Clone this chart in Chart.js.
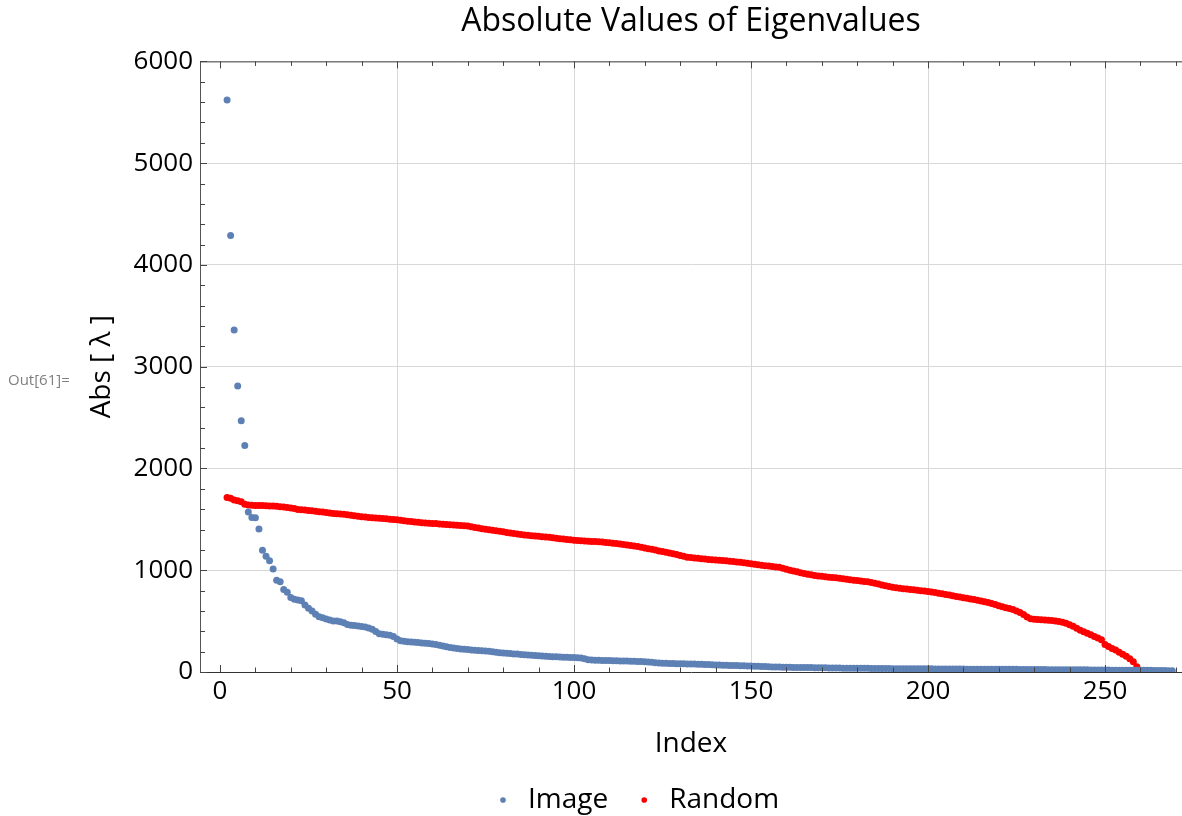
<!DOCTYPE html>
<html>
<head>
<meta charset="utf-8">
<title>Absolute Values of Eigenvalues</title>
<script src="https://cdn.jsdelivr.net/npm/chart.js@4.4.1/dist/chart.umd.min.js"></script>
<style>
  html, body { margin: 0; padding: 0; background: #fff; }
  canvas { display: block; }
</style>
</head>
<body>
<canvas id="eigenChart" width="1182" height="816"></canvas>
<script>
// Eigenvalue magnitudes, index starts at 2
const firstIndex = 2;

const imageValues = [
  5620, 4288, 3361, 2810, 2469, 2226, 1571, 1518, 1515, 1406,
  1197, 1138, 1092, 1013, 902, 888, 810, 784, 731, 715,
  708, 701, 659, 626, 600, 567, 544, 534, 521, 511,
  502, 500, 495, 485, 466, 459, 456, 453, 446, 443,
  433, 420, 397, 377, 370, 366, 362, 350, 325, 308,
  302, 298, 295, 292, 289, 286, 283, 280, 276, 270,
  264, 256, 248, 240, 236, 232, 227, 223, 220, 217,
  214, 211, 209, 207, 203, 198, 194, 190, 187, 184,
  181, 178, 176, 173, 170, 167, 164, 161, 159, 157,
  155, 153, 151, 149, 148, 146, 145, 143, 142, 141,
  138, 130, 121, 118, 116, 115, 114, 113, 112, 111,
  110, 109, 108, 107, 106, 105, 104, 102, 101, 99,
  96, 92, 89, 86, 85, 84, 83, 82, 81, 80,
  79, 79, 78, 77, 75, 74, 73, 72, 70, 69,
  67, 66, 65, 64, 63, 62, 61, 60, 59, 57,
  56, 55, 53, 52, 50, 49, 48, 47, 47, 46,
  45, 45, 44, 44, 43, 43, 42, 42, 41, 41,
  40, 40, 39, 39, 38, 38, 38, 37, 37, 36,
  36, 36, 35, 35, 35, 34, 34, 34, 33, 33,
  33, 33, 32, 32, 32, 32, 31, 31, 31, 31,
  30, 30, 30, 30, 29, 29, 29, 29, 29, 28,
  28, 28, 28, 28, 27, 27, 27, 27, 27, 26,
  26, 26, 26, 26, 25, 25, 25, 25, 24, 24,
  24, 24, 23, 23, 23, 23, 22, 22, 22, 22,
  21, 21, 21, 21, 20, 20, 20, 19, 19, 19,
  18, 18, 18, 17, 17, 17, 17, 16, 16, 16,
  16, 16, 15, 15, 14, 14, 13, 12
];

const randomValues = [
  1715, 1708, 1690, 1682, 1672, 1648, 1642, 1639, 1637, 1636,
  1635, 1634, 1632, 1630, 1628, 1625, 1622, 1617, 1612, 1607,
  1598, 1594, 1591, 1588, 1584, 1579, 1575, 1571, 1567, 1562,
  1558, 1555, 1552, 1549, 1545, 1541, 1535, 1530, 1526, 1522,
  1519, 1516, 1513, 1510, 1508, 1505, 1502, 1499, 1495, 1491,
  1486, 1482, 1478, 1474, 1471, 1467, 1464, 1462, 1460, 1458,
  1454, 1451, 1449, 1447, 1445, 1442, 1440, 1437, 1434, 1428,
  1420, 1414, 1408, 1402, 1397, 1392, 1387, 1382, 1377, 1371,
  1366, 1361, 1357, 1352, 1347, 1343, 1339, 1336, 1333, 1330,
  1326, 1323, 1319, 1314, 1310, 1306, 1303, 1299, 1295, 1291,
  1289, 1287, 1285, 1283, 1282, 1280, 1277, 1273, 1269, 1266,
  1263, 1259, 1254, 1249, 1244, 1238, 1232, 1226, 1219, 1212,
  1205, 1198, 1190, 1183, 1176, 1169, 1162, 1155, 1146, 1137,
  1128, 1124, 1121, 1118, 1114, 1110, 1106, 1103, 1101, 1098,
  1095, 1092, 1089, 1086, 1082, 1078, 1074, 1069, 1064, 1059,
  1054, 1049, 1045, 1041, 1037, 1033, 1029, 1020, 1010, 1000,
  992, 984, 976, 968, 961, 955, 949, 944, 940, 936,
  932, 929, 926, 921, 916, 911, 906, 902, 898, 894,
  890, 886, 880, 872, 864, 856, 848, 840, 834, 828,
  823, 819, 815, 811, 807, 803, 799, 795, 790, 785,
  780, 774, 768, 762, 756, 749, 742, 736, 730, 724,
  718, 712, 706, 698, 690, 682, 674, 664, 652, 640,
  632, 624, 614, 600, 585, 565, 540, 524, 518, 515,
  513, 511, 509, 506, 502, 497, 490, 478, 465, 450,
  430, 410, 395, 380, 365, 350, 335, 318, 270, 250,
  232, 215, 195, 175, 155, 130, 100, 52
];

const seriesNames = ["Image", "Random"];
const seriesColors = ["#5e81b5", "#ff0000"];

const xTickValues = [0, 50, 100, 150, 200, 250];
const yTickValues = [0, 1000, 2000, 3000, 4000, 5000, 6000];

const toPoints = values => values.map((v, k) => ({ x: firstIndex + k, y: v }));

Chart.defaults.font.family = "'Open Sans', sans-serif";
Chart.defaults.color = "#000";

// Mathematica style frame: top edge, inward ticks, "Out" label
const frameTicks = {
  id: "frameTicks",
  afterLayout(chart) {
    // legend sits a bit left of the plot centre in the original
    chart.legend.left = 467;
  },
  afterDatasetsDraw(chart) {
    const { ctx, chartArea: area, scales: { x, y } } = chart;
    ctx.save();
    ctx.strokeStyle = "#444";
    ctx.lineWidth = 1;
    ctx.beginPath();
    ctx.moveTo(area.left, area.top + 0.5);
    ctx.lineTo(area.right, area.top + 0.5);
    for (let v = 0; v <= 270; v += 10) {
      const px = Math.round(x.getPixelForValue(v)) + 0.5;
      const len = v % 50 === 0 ? 7 : 4.5;
      ctx.moveTo(px, area.bottom);
      ctx.lineTo(px, area.bottom - len);
      ctx.moveTo(px, area.top);
      ctx.lineTo(px, area.top + len);
    }
    for (let v = 0; v <= 6000; v += 200) {
      const py = Math.round(y.getPixelForValue(v)) + 0.5;
      const len = v % 1000 === 0 ? 7 : 5;
      ctx.moveTo(area.left, py);
      ctx.lineTo(area.left + len, py);
    }
    ctx.stroke();

    ctx.fillStyle = "#808080";
    ctx.font = "15px 'Open Sans', sans-serif";
    ctx.textBaseline = "middle";
    ctx.fillText("Out[61]=", 8, 381);
    ctx.restore();
  }
};

const gridColor = ctx => (ctx.tick && ctx.tick.value === 0 ? "rgba(0,0,0,0)" : "#d8d8d8");

new Chart(document.getElementById("eigenChart"), {
  type: "scatter",
  data: {
    datasets: [
      {
        label: seriesNames[0],
        data: toPoints(imageValues),
        backgroundColor: seriesColors[0],
        borderWidth: 0,
        pointRadius: 3.5,
        pointHoverRadius: 3.5
      },
      {
        label: seriesNames[1],
        data: toPoints(randomValues),
        backgroundColor: seriesColors[1],
        borderWidth: 0,
        pointRadius: 3.5,
        pointHoverRadius: 3.5
      }
    ]
  },
  options: {
    responsive: false,
    animation: false,
    devicePixelRatio: 1,
    layout: { autoPadding: false, padding: { left: 0, right: 0, top: 0, bottom: -8 } },
    plugins: {
      title: {
        display: true,
        text: "Absolute Values of Eigenvalues",
        fullSize: false,
        font: { size: 32, weight: "normal" },
        padding: { top: 3, bottom: 20 }
      },
      legend: {
        position: "bottom",
        align: "start",
        labels: {
          usePointStyle: true,
          pointStyle: "circle",
          boxHeight: 4,
          boxWidth: 22,
          padding: 25,
          font: { size: 28 }
        }
      },
      tooltip: { enabled: false }
    },
    scales: {
      x: {
        type: "linear",
        min: -5.65,
        max: 271.75,
        afterBuildTicks: scale => { scale.ticks = xTickValues.map(v => ({ value: v })); },
        afterFit: scale => {
          scale.height = 89;
          scale.paddingLeft = 0;
          scale.paddingRight = 0;
        },
        ticks: { padding: 4, font: { size: 26 }, callback: v => String(v) },
        grid: { color: gridColor, drawTicks: false },
        border: { display: true, color: "#333", width: 1 },
        title: { display: true, text: "Index", font: { size: 28 }, padding: { top: 0, bottom: 0 } }
      },
      y: {
        type: "linear",
        min: 0,
        max: 6000,
        afterBuildTicks: scale => { scale.ticks = yTickValues.map(v => ({ value: v })); },
        afterFit: scale => { scale.width = 200; },
        ticks: { padding: 7, font: { size: 26 }, callback: v => String(v) },
        grid: { color: gridColor, drawTicks: false },
        border: { display: true, color: "#555", width: 1 },
        title: { display: true, text: "Abs [ λ ]", font: { size: 28 }, padding: { top: 85, bottom: 0 } }
      }
    }
  },
  plugins: [frameTicks]
});
</script>
</body>
</html>
